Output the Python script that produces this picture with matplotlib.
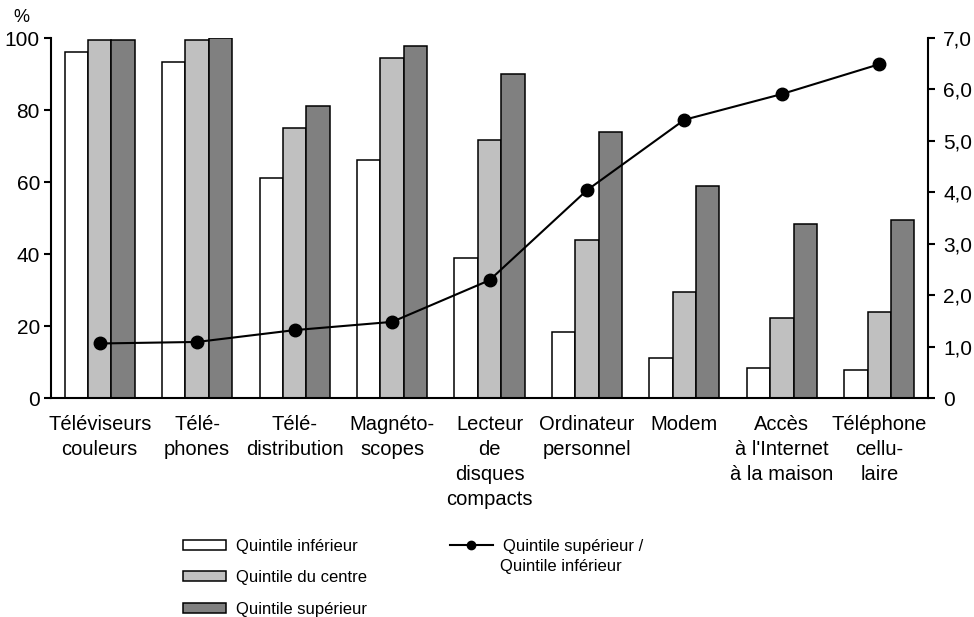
import numpy as np
import matplotlib
matplotlib.use('Agg')
import matplotlib.pyplot as plt
from matplotlib.patches import Patch
from matplotlib.lines import Line2D
from matplotlib.ticker import FuncFormatter

plt.rcParams['font.family'] = ['Liberation Sans', 'DejaVu Sans']

categories = ["Téléviseurs\ncouleurs", "Télé-\nphones", "Télé-\ndistribution",
              "Magnéto-\nscopes", "Lecteur\nde\ndisques\ncompacts",
              "Ordinateur\npersonnel", "Modem", "Accès\nà l'Internet\nà la maison",
              "Téléphone\ncellu-\nlaire"]
inferieur = [96.1, 93.4, 61.0, 66.1, 39.0, 18.4, 11.2, 8.4, 7.9]
centre = [99.4, 99.4, 75.1, 94.4, 71.7, 44.0, 29.4, 22.2, 24.0]
superieur = [99.4, 100.0, 81.1, 97.8, 90.0, 73.9, 58.9, 48.2, 49.4]
ratio = [1.06, 1.09, 1.32, 1.48, 2.29, 4.04, 5.41, 5.91, 6.49]

fig = plt.figure(figsize=(9.74, 6.17), dpi=100)
ax = fig.add_axes([51/974, 1-398/617, (928-51)/974, 360/617])
ax2 = ax.twinx()

x = np.arange(len(categories))
w = 0.24
ax.bar(x - w, inferieur, w, color='white', edgecolor='black', linewidth=1.1)
ax.bar(x, centre, w, color='#c0c0c0', edgecolor='black', linewidth=1.1)
ax.bar(x + w, superieur, w, color='#808080', edgecolor='black', linewidth=1.1)

ax2.plot(x, ratio, color='black', lw=1.5, marker='o', markersize=9)

ax.set_xlim(-0.5, len(categories) - 0.5)
ax.set_ylim(0, 100)
ax2.set_ylim(0, 7)
ax.set_yticks([0, 20, 40, 60, 80, 100])
ax2.set_yticks(range(8))
ax2.yaxis.set_major_formatter(FuncFormatter(lambda v, p: '0' if v == 0 else ('%.1f' % v).replace('.', ',')))

ax.set_xticks(x)
ax.set_xticklabels(categories, fontsize=14.5, linespacing=1.4)
ax.tick_params(axis='x', length=0, pad=12)
ax.tick_params(axis='y', labelsize=15, width=1.5, length=5, pad=3)
ax2.tick_params(axis='y', labelsize=15, width=1.5, length=5, pad=6)

for a in (ax, ax2):
    a.spines['top'].set_visible(False)
    for s in ('left', 'right', 'bottom'):
        a.spines[s].set_linewidth(1.5)
ax.spines['right'].set_visible(False)
ax2.spines['left'].set_visible(False)
ax2.spines['bottom'].set_visible(False)

fig.text(21/974, 1-17/617, '%', fontsize=13, ha='center', va='center')

bar_handles = [Patch(facecolor='white', edgecolor='black', linewidth=1.1),
               Patch(facecolor='#c0c0c0', edgecolor='black', linewidth=1.1),
               Patch(facecolor='#808080', edgecolor='black', linewidth=1.1)]
fig.legend(bar_handles, ['Quintile inférieur', 'Quintile du centre', 'Quintile supérieur'],
           loc='upper left', bbox_to_anchor=(176/974, 1-532/617), frameon=False,
           fontsize=12, handlelength=2.6, handleheight=0.55, labelspacing=1.0,
           handletextpad=0.6, borderaxespad=0)
fig.legend([Line2D([], [], color='black', lw=1.5, marker='o', markersize=6)],
           ['Quintile supérieur /'],
           loc='upper left', bbox_to_anchor=(443/974, 1-532/617), frameon=False,
           fontsize=12, handlelength=2.6, handletextpad=0.6, borderaxespad=0)
fig.text(500/974, 1-567/617, 'Quintile inférieur', fontsize=12, ha='left', va='center')

plt.savefig('out.png', dpi=100)
